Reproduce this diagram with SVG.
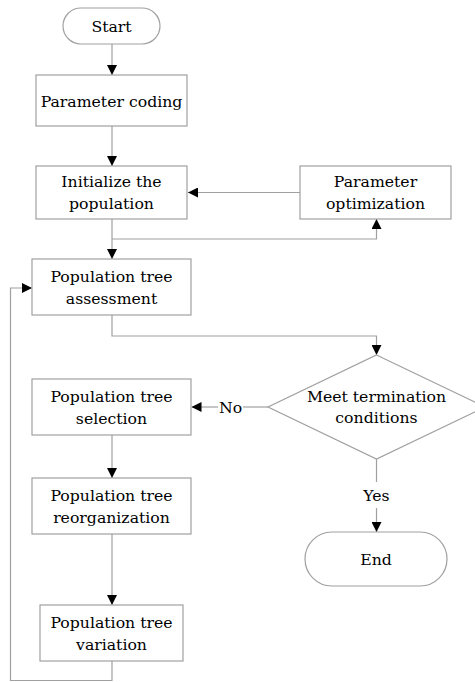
<svg xmlns="http://www.w3.org/2000/svg" width="475" height="682" viewBox="0 0 475 682">
<style>
.box{fill:#fff;stroke:#a0a0a0;stroke-width:1.2}
.ln{fill:none;stroke:#a0a0a0;stroke-width:1.2}
text{font-family:'DejaVu Serif',serif;font-size:15.7px;fill:#000;text-anchor:middle}
</style>
<defs>
<marker id="ah" viewBox="0 0 10 10" refX="10" refY="5" markerWidth="10" markerHeight="10" markerUnits="userSpaceOnUse" orient="auto">
<path d="M0,0 L10,5 L0,10 Z" fill="#000"/>
</marker>
</defs>
<rect width="475" height="682" fill="#fff"/>
<g id="connectors">
<path class="ln" d="M112,44 V75" marker-end="url(#ah)"/>
<path class="ln" d="M112,126 V166" marker-end="url(#ah)"/>
<path class="ln" d="M300,192.5 H188" marker-end="url(#ah)"/>
<path class="ln" d="M112,219 V259" marker-end="url(#ah)"/>
<path class="ln" d="M112,239 H376.5 V219" marker-end="url(#ah)"/>
<path class="ln" d="M112,315 V336 H376.5 V355" marker-end="url(#ah)"/>
<path class="ln" d="M268,407 H243"/>
<path class="ln" d="M218,407 H191.5" marker-end="url(#ah)"/>
<path class="ln" d="M376.5,459 V482"/>
<path class="ln" d="M376.5,508 V532" marker-end="url(#ah)"/>
<path class="ln" d="M112,435 V478" marker-end="url(#ah)"/>
<path class="ln" d="M112,534 V605" marker-end="url(#ah)"/>
<path class="ln" d="M112,661 V680.5 H10.5 V288 H32" marker-end="url(#ah)"/>
<text x="230.5" y="412.5">No</text>
<text x="376.5" y="501">Yes</text>
</g>
<g id="start"><rect class="box" x="63" y="8" width="97" height="36" rx="18"/><text x="111.5" y="32">Start</text></g>
<g id="coding"><rect class="box" x="36" y="75" width="151" height="51"/><text x="111.5" y="106.5">Parameter coding</text></g>
<g id="init"><rect class="box" x="36" y="166" width="151" height="53"/><text x="111.5" y="187">Initialize the</text><text x="111.5" y="208.5">population</text></g>
<g id="optim"><rect class="box" x="300" y="166" width="151" height="53"/><text x="375.5" y="187">Parameter</text><text x="375.5" y="208.5">optimization</text></g>
<g id="assess"><rect class="box" x="32" y="259" width="159" height="56"/><text x="111.5" y="282">Population tree</text><text x="111.5" y="303.5">assessment</text></g>
<g id="decision"><polygon class="box" points="376.5,355 485,407 376.5,459 268,407"/><text x="376.5" y="401.5">Meet termination</text><text x="376.5" y="423">conditions</text></g>
<g id="select"><rect class="box" x="32" y="379" width="159" height="56"/><text x="111.5" y="402">Population tree</text><text x="111.5" y="423.5">selection</text></g>
<g id="reorg"><rect class="box" x="32" y="478" width="159" height="56"/><text x="111.5" y="501">Population tree</text><text x="111.5" y="522.5">reorganization</text></g>
<g id="variation"><rect class="box" x="40" y="605" width="143" height="56"/><text x="111.5" y="628">Population tree</text><text x="111.5" y="649.5">variation</text></g>
<g id="end"><rect class="box" x="305" y="532" width="142" height="54" rx="27"/><text x="376" y="564.5">End</text></g>
</svg>
